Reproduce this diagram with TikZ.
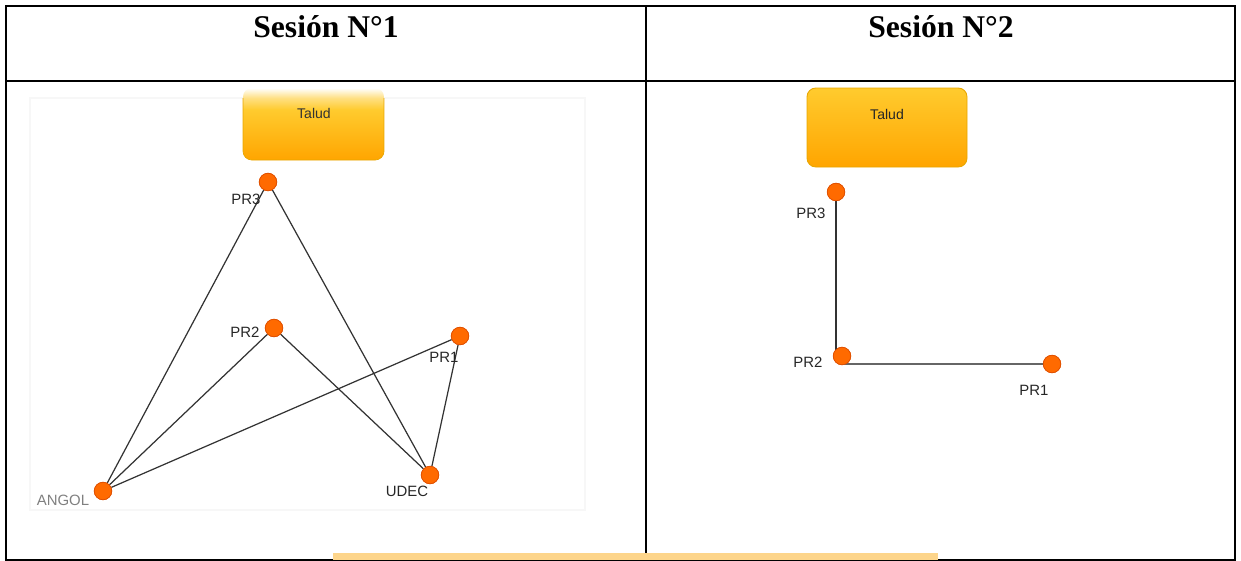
\documentclass[tikz,border=0pt]{standalone}
\usepackage{fontspec}
\setmainfont{Liberation Serif}
\newfontfamily\arial{Liberation Sans}
\usetikzlibrary{calc}

\definecolor{nodeorange}{HTML}{FF6A00}
\definecolor{nodeedge}{HTML}{E05000}
\definecolor{taludtop}{HTML}{FFCB2E}
\definecolor{taludbot}{HTML}{FFA500}
\definecolor{taludline}{HTML}{E8A600}
\definecolor{stripe}{HTML}{FDD58B}

% degradado con el borde superior desvanecido
\pgfdeclareverticalshading{taludfade}{100bp}{color(0bp)=(taludbot); color(25bp)=(taludbot);
    color(60bp)=(taludtop); color(68bp)=(taludtop!60!white); color(75bp)=(white); color(100bp)=(white)}

\begin{document}
\begin{tikzpicture}[
    x=0.02cm, y=-0.02cm,
    pnode/.style={circle, fill=nodeorange, draw=nodeedge, line width=0.4pt,
        minimum size=0.35cm, inner sep=0pt},
    plabel/.style={font=\arial\fontsize{8.5pt}{10pt}\selectfont, text=black!85, inner sep=0pt},
    link/.style={draw=black!80, line width=0.7pt},
    rule/.style={line width=1.2pt}
]
\useasboundingbox (0,0) rectangle (1241,561);

% ========== tabla ==========
\draw[rule] (6,6) rectangle (1235,560);
\draw[rule] (6,81) -- (1235,81);
\draw[rule] (646,6) -- (646,560);
\fill[stripe] (333,553) rectangle (938,559.5);

\node (t1) at (326,27) {\fontsize{18pt}{20pt}\selectfont\bfseries Sesión N°1};
\node (t2) at (941,27) {\fontsize{18pt}{20pt}\selectfont\bfseries Sesión N°2};

% ========== izquierda: sesión 1 ==========
\draw[black!3, line width=1.5pt] (30,98) rectangle (585,510);

\shade[shading=taludfade, rounded corners=5pt] (243,88) rectangle (384,160);
\draw[taludline, line width=0.4pt, rounded corners=5pt] (243,98) -- (243,160) -- (384,160) -- (384,98);
\node[font=\arial\fontsize{8pt}{10pt}\selectfont, text=black!80] (lt) at (314,113) {Talud};

% nodos
\node[pnode] (aPR3) at (268,182) {};
\node[pnode] (aPR2) at (274,328) {};
\node[pnode] (aPR1) at (460,336) {};
\node[pnode] (aUDEC) at (430,475) {};
\node[pnode] (aANGOL) at (103,491) {};

% enlaces
\foreach \a/\b in {aPR3/aANGOL, aPR3/aUDEC, aPR2/aANGOL, aPR2/aUDEC, aPR1/aANGOL, aPR1/aUDEC} {
    \draw[link] (\a) -- (\b);
}
% se vuelven a pintar los nodos encima
\foreach \n in {aPR3, aPR2, aPR1, aUDEC, aANGOL} {
    \node[pnode] at (\n) {};
}

\node[plabel] (laPR3) at (246,199) {PR3};
\node[plabel] (laPR2) at (245,332) {PR2};
\node[plabel] (laPR1) at (444,357) {PR1};
\node[plabel] (laUDEC) at (407,491) {UDEC};
\node[plabel, text=black!50] (laANGOL) at (63,500) {ANGOL};

% ========== derecha: sesión 2 ==========
\shade[top color=taludtop, bottom color=taludbot, rounded corners=5pt]
    (807,88) rectangle (967,167);
\draw[taludline, line width=0.5pt, rounded corners=5pt] (807,88) rectangle (967,167);
\node[font=\arial\fontsize{8pt}{10pt}\selectfont, text=black!85] (rt) at (887,114) {Talud};

\node[pnode] (bPR3) at (836,192) {};
\node[pnode] (bPR2) at (842,356) {};
\node[pnode] (bPR1) at (1052,364) {};

\draw[link] (bPR3) -- (bPR3 |- bPR2);
\draw[link, black!60, line width=1pt] (bPR2 |- bPR1) -- (bPR1);
\foreach \n in {bPR3, bPR2, bPR1} {
    \node[pnode] at (\n) {};
}

\node[plabel] (lbPR3) at (811,213) {PR3};
\node[plabel] (lbPR2) at (808,362) {PR2};
\node[plabel] (lbPR1) at (1034,390) {PR1};

\end{tikzpicture}
\end{document}
